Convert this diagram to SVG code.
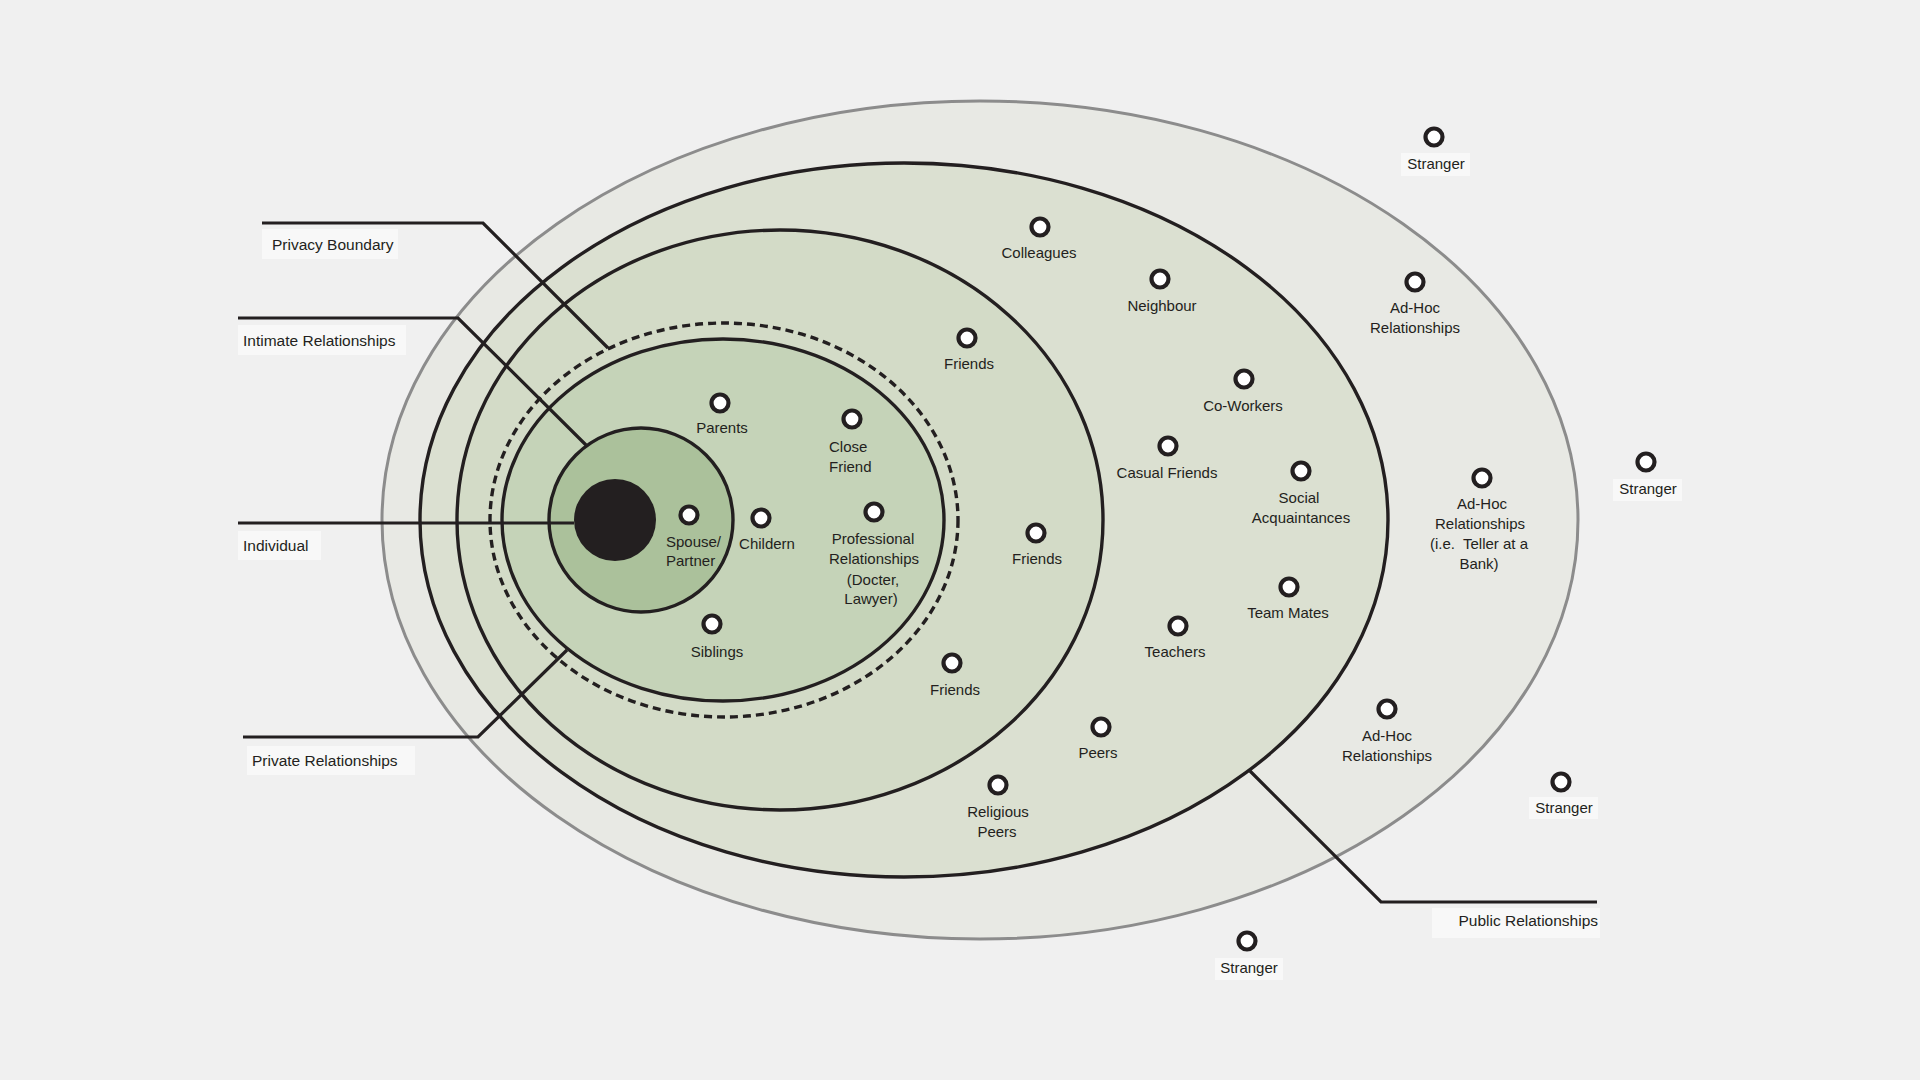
<svg xmlns="http://www.w3.org/2000/svg" width="1920" height="1080" viewBox="0 0 1920 1080">
<style>
text{font-family:"Liberation Sans",Arial,sans-serif;font-size:15px;fill:#231f20}
.c{text-anchor:middle}
.ring{stroke:#231f20;stroke-width:3.4}
.node{fill:#ffffff;stroke:#231f20;stroke-width:4.2}
.lead{fill:none;stroke:#231f20;stroke-width:3.2}
.box{fill:#f8f8f8}
.lbl{font-size:15.5px}
</style>
<rect width="1920" height="1080" fill="#f0f0f0"/>
<g id="zones">
<ellipse id="zone-public-outer" cx="980" cy="520" rx="598" ry="419" fill="#e8e9e4" stroke="#8c8c8c" stroke-width="3"/>
<ellipse id="zone-public" class="ring" cx="904" cy="520" rx="484" ry="357" fill="#dbe0d1"/>
<ellipse id="zone-social" class="ring" cx="780" cy="520" rx="323" ry="290" fill="#d3dbc7"/>
<ellipse id="privacy-boundary" cx="724" cy="520" rx="234" ry="197" fill="none" stroke="#231f20" stroke-width="3.4" stroke-dasharray="8 5"/>
<ellipse id="zone-private" class="ring" cx="723" cy="520" rx="221" ry="181" fill="#c5d3b8"/>
<circle id="zone-intimate" class="ring" cx="641" cy="520" r="92" fill="#abc19b"/>
<circle id="individual" cx="615" cy="520" r="41" fill="#231f20"/>
</g>
<g id="connectors">
<polyline class="lead" points="262,223 483,223 608,348"/>
<polyline class="lead" points="238,318 458,318 586,445"/>
<polyline class="lead" points="238,523 574,523"/>
<polyline class="lead" points="243,737 478,737 567,650"/>
<polyline class="lead" points="1250,771 1381,902 1597,902"/>
</g>
<g id="label-privacy"><rect class="box" x="262" y="229" width="136" height="30"/><text class="lbl" x="272" y="250">Privacy Boundary</text></g>
<g id="label-intimate"><rect class="box" x="238" y="325" width="168" height="30"/><text class="lbl" x="243" y="346">Intimate Relationships</text></g>
<g id="label-individual"><rect class="box" x="238" y="531" width="83" height="29"/><text class="lbl" x="243" y="551">Individual</text></g>
<g id="label-private"><rect class="box" x="247" y="746" width="168" height="29"/><text class="lbl" x="252" y="766">Private Relationships</text></g>
<g id="label-public"><rect class="box" x="1432" y="908" width="168" height="30"/><text class="lbl" x="1598" y="926" text-anchor="end">Public Relationships</text></g>

<g id="n-parents"><circle class="node" cx="720" cy="403" r="8.5"/><text class="c" x="722" y="433">Parents</text></g>
<g id="n-closefriend"><circle class="node" cx="852" cy="419" r="8.5"/><text x="829" y="452">Close</text><text x="829" y="472">Friend</text></g>
<g id="n-spouse"><circle class="node" cx="689" cy="515" r="8.5"/><text x="666" y="547">Spouse/</text><text x="666" y="566">Partner</text></g>
<g id="n-children"><circle class="node" cx="761" cy="518" r="8.5"/><text class="c" x="767" y="549">Childern</text></g>
<g id="n-professional"><circle class="node" cx="874" cy="512" r="8.5"/><text class="c" x="873" y="544">Professional</text><text class="c" x="874" y="564">Relationships</text><text class="c" x="873" y="585">(Docter,</text><text class="c" x="871" y="604">Lawyer)</text></g>
<g id="n-siblings"><circle class="node" cx="712" cy="624" r="8.5"/><text class="c" x="717" y="657">Siblings</text></g>

<g id="n-friends1"><circle class="node" cx="967" cy="338" r="8.5"/><text class="c" x="969" y="369">Friends</text></g>
<g id="n-friends2"><circle class="node" cx="1036" cy="533" r="8.5"/><text class="c" x="1037" y="564">Friends</text></g>
<g id="n-friends3"><circle class="node" cx="952" cy="663" r="8.5"/><text class="c" x="955" y="695">Friends</text></g>

<g id="n-colleagues"><circle class="node" cx="1040" cy="227" r="8.5"/><text class="c" x="1039" y="258">Colleagues</text></g>
<g id="n-neighbour"><circle class="node" cx="1160" cy="279" r="8.5"/><text class="c" x="1162" y="311">Neighbour</text></g>
<g id="n-coworkers"><circle class="node" cx="1244" cy="379" r="8.5"/><text class="c" x="1243" y="411">Co-Workers</text></g>
<g id="n-casual"><circle class="node" cx="1168" cy="446" r="8.5"/><text class="c" x="1167" y="478">Casual Friends</text></g>
<g id="n-social"><circle class="node" cx="1301" cy="471" r="8.5"/><text class="c" x="1299" y="503">Social</text><text class="c" x="1301" y="523">Acquaintances</text></g>
<g id="n-teammates"><circle class="node" cx="1289" cy="587" r="8.5"/><text class="c" x="1288" y="618">Team Mates</text></g>
<g id="n-teachers"><circle class="node" cx="1178" cy="626" r="8.5"/><text class="c" x="1175" y="657">Teachers</text></g>
<g id="n-peers"><circle class="node" cx="1101" cy="727" r="8.5"/><text class="c" x="1098" y="758">Peers</text></g>
<g id="n-religious"><circle class="node" cx="998" cy="785" r="8.5"/><text class="c" x="998" y="817">Religious</text><text class="c" x="997" y="837">Peers</text></g>

<g id="n-adhoc1"><circle class="node" cx="1415" cy="282" r="8.5"/><text class="c" x="1415" y="313">Ad-Hoc</text><text class="c" x="1415" y="333">Relationships</text></g>
<g id="n-adhoc2"><circle class="node" cx="1482" cy="478" r="8.5"/><text class="c" x="1482" y="509">Ad-Hoc</text><text class="c" x="1480" y="529">Relationships</text><text class="c" x="1479" y="549" xml:space="preserve">(i.e.  Teller at a</text><text class="c" x="1479" y="569">Bank)</text></g>
<g id="n-adhoc3"><circle class="node" cx="1387" cy="709" r="8.5"/><text class="c" x="1387" y="741">Ad-Hoc</text><text class="c" x="1387" y="761">Relationships</text></g>

<g id="n-stranger1"><circle class="node" cx="1434" cy="137" r="8.5"/><rect class="box" x="1401" y="153" width="69" height="23"/><text class="c" x="1436" y="169">Stranger</text></g>
<g id="n-stranger2"><circle class="node" cx="1646" cy="462" r="8.5"/><rect class="box" x="1613" y="479" width="69" height="22"/><text class="c" x="1648" y="494">Stranger</text></g>
<g id="n-stranger3"><circle class="node" cx="1561" cy="782" r="8.5"/><rect class="box" x="1529" y="797" width="69" height="22"/><text class="c" x="1564" y="813">Stranger</text></g>
<g id="n-stranger4"><circle class="node" cx="1247" cy="941" r="8.5"/><rect class="box" x="1215" y="958" width="68" height="22"/><text class="c" x="1249" y="973">Stranger</text></g>
</svg>
